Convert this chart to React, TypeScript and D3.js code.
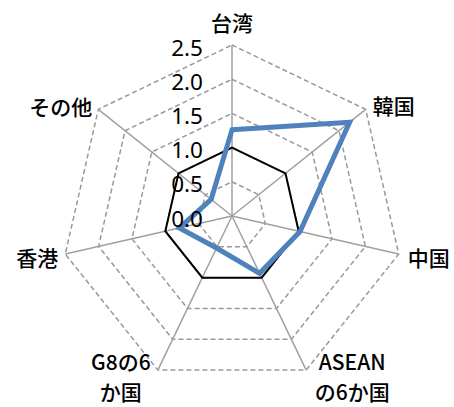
import React from "react";
import * as d3 from "d3";

const categories: string[][] = [
  ["台湾"],
  ["韓国"],
  ["中国"],
  ["ASEAN", "の6か国"],
  ["G8の6", "か国"],
  ["香港"],
  ["その他"],
];
const seriesValues = [1.26, 2.2, 1.02, 0.93, 0.52, 0.79, 0.39];
const baselineValues = [1, 1, 1, 1, 1, 1, 1];
const tickValues = [0, 0.5, 1, 1.5, 2, 2.5];
const tickLabels = ["0.0", "0.5", "1.0", "1.5", "2.0", "2.5"];

const W = 454;
const H = 407;
const CX = 232;
const CY = 216;
const R = 171;

// label layout: anchor and offsets relative to the outer vertex
const labelLayout = [
  { anchor: "middle", dx: 0, dy: -23 },
  { anchor: "start", dx: 7, dy: -4 },
  { anchor: "start", dx: 9, dy: 3 },
  { anchor: "middle", dx: 46, dy: -9 },
  { anchor: "middle", dx: -37, dy: -9 },
  { anchor: "end", dx: -7, dy: 3 },
  { anchor: "end", dx: -6, dy: -3 },
];

export default function App() {
  const n = categories.length;
  const r = d3.scaleLinear().domain([0, 2.5]).range([0, R]);
  const ang = (i: number) => (i * 2 * Math.PI) / n;
  const pt = (i: number, v: number): [number, number] => [
    Math.sin(ang(i)) * r(v),
    -Math.cos(ang(i)) * r(v),
  ];

  const radial = d3
    .lineRadial<number>()
    .angle((_d, i) => ang(i))
    .radius((d) => r(d))
    .curve(d3.curveLinearClosed);

  const ringPath = (v: number) => radial(categories.map(() => v)) || "";

  return (
    <svg
      width={W}
      height={H}
      style={{ position: "absolute", left: 0, top: 0, background: "#fff" }}
    >
      <g transform={`translate(${CX},${CY})`}>
        {tickValues
          .filter((t) => t > 0)
          .map((t) => (
            <path
              key={"ring" + t}
              d={ringPath(t)}
              fill="none"
              stroke="#999"
              strokeWidth={1.5}
              strokeDasharray="5,3"
            />
          ))}
        {categories.map((_c, i) => {
          const [x, y] = pt(i, 2.5);
          return (
            <line
              key={"spoke" + i}
              x1={0}
              y1={0}
              x2={x}
              y2={y}
              stroke="#a0a0a0"
              strokeWidth={1.5}
            />
          );
        })}
        <path
          d={radial(baselineValues) || ""}
          fill="none"
          stroke="#000"
          strokeWidth={2}
          strokeLinejoin="miter"
        />
        <path
          d={radial(seriesValues) || ""}
          fill="none"
          stroke="#4f81bd"
          strokeWidth={5}
          strokeLinejoin="miter"
        />
        {tickValues.map((t, k) => (
          <text
            key={"tick" + t}
            x={-29}
            y={-r(t) + 2}
            textAnchor="end"
            dominantBaseline="central"
            fontFamily="'Noto Sans', sans-serif"
            fontSize={22.5}
            fill="#000"
          >
            {tickLabels[k]}
          </text>
        ))}
        {categories.map((lines, i) => {
          const [x, y] = pt(i, 2.5);
          const L = labelLayout[i];
          return (
            <text
              key={"lab" + i}
              x={x + L.dx}
              y={y + L.dy}
              textAnchor={L.anchor as any}
              dominantBaseline="central"
              fontFamily="'Noto Sans CJK JP', sans-serif"
              fontWeight={500}
              fontSize={21}
              fill="#000"
            >
              {lines.map((ln, j) => (
                <tspan key={j} x={x + L.dx} dy={j === 0 ? 0 : 30}>
                  {ln}
                </tspan>
              ))}
            </text>
          );
        })}
      </g>
    </svg>
  );
}
